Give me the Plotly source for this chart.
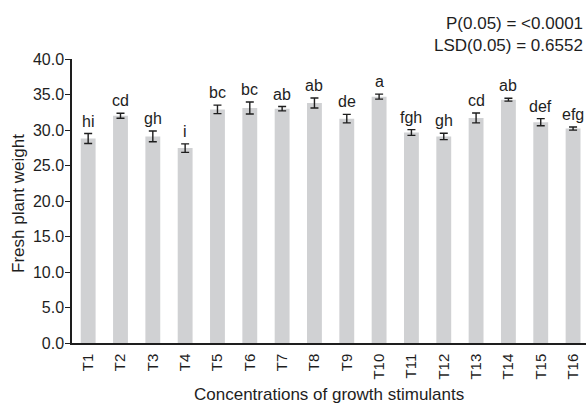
import plotly.graph_objects as go

categories = ["T1", "T2", "T3", "T4", "T5", "T6", "T7", "T8",
              "T9", "T10", "T11", "T12", "T13", "T14", "T15", "T16"]
values = [28.8, 32.0, 29.1, 27.45, 32.9, 33.1, 33.0, 33.8,
          31.6, 34.7, 29.65, 29.1, 31.7, 34.27, 31.1, 30.2]
errors = [0.7, 0.35, 0.75, 0.6, 0.6, 0.85, 0.3, 0.7,
          0.6, 0.35, 0.4, 0.45, 0.7, 0.2, 0.5, 0.22]
letters = ["hi", "cd", "gh", "i", "bc", "bc", "ab", "ab",
           "de", "a", "fgh", "gh", "cd", "ab", "def", "efg"]
y_ticks = [0, 5, 10, 15, 20, 25, 30, 35, 40]
y_ticktext = ["%.1f" % v for v in y_ticks]

FONT = "Liberation Sans, Arial, sans-serif"
TXT = "#1e1e1e"

fig = go.Figure()
fig.add_trace(go.Bar(
    x=categories, y=values, width=0.46,
    marker=dict(color="#d0d1d3", line=dict(width=0)),
    error_y=dict(type="data", array=errors, visible=True,
                 color="#1e1e1e", thickness=1.4, width=4),
    showlegend=False,
))

for cat, v, e, lab in zip(categories, values, errors, letters):
    fig.add_annotation(x=cat, y=v + e, text=lab, xref="x", yref="y",
                       yanchor="bottom", xanchor="center", yshift=2,
                       showarrow=False,
                       font=dict(family=FONT, size=16, color=TXT))

fig.add_annotation(text="P(0.05) = <0.0001", xref="paper", yref="paper",
                   x=1.0, y=1, xshift=-1, yshift=35.5, xanchor="right", yanchor="middle",
                   showarrow=False, font=dict(family=FONT, size=17, color=TXT))
fig.add_annotation(text="LSD(0.05) = 0.6552", xref="paper", yref="paper",
                   x=1.0, y=1, xshift=-1, yshift=13.5, xanchor="right", yanchor="middle",
                   showarrow=False, font=dict(family=FONT, size=17, color=TXT))
fig.add_annotation(text="Concentrations of growth stimulants", xref="paper", yref="paper",
                   x=0.5, y=0, yshift=-51.5, xanchor="center", yanchor="middle",
                   showarrow=False, font=dict(family=FONT, size=17, color=TXT))
fig.add_annotation(text="Fresh plant weight", xref="paper", yref="paper",
                   x=0, y=0.5, xshift=-54, yshift=-3, xanchor="center", yanchor="middle",
                   textangle=-90,
                   showarrow=False, font=dict(family=FONT, size=17, color=TXT))

fig.update_layout(
    width=588, height=406,
    margin=dict(l=72, r=2, t=58.5, b=62.7),
    paper_bgcolor="white", plot_bgcolor="white",
    font=dict(family=FONT, size=15, color=TXT),
    xaxis=dict(
        range=[-0.5, 15.4], tickangle=-90, showgrid=False,
        showline=True, linecolor="#1e1e1e", linewidth=1.5,
        ticks="", ticklabelstandoff=3,
        tickfont=dict(family=FONT, size=15, color=TXT),
    ),
    yaxis=dict(
        range=[0, 40], tickvals=y_ticks, ticktext=y_ticktext,
        showgrid=False, zeroline=False,
        showline=True, linecolor="#1e1e1e", linewidth=1.5,
        ticks="outside", ticklen=5, tickcolor="#1e1e1e", tickwidth=1,
        ticklabelstandoff=-2,
        tickfont=dict(family=FONT, size=16, color=TXT),
    ),
)

page_fix = ("document.body.style.margin='0';"
            "document.body.style.overflow='hidden';"
            "document.documentElement.style.overflow='hidden';")
fig.write_html("out.html", post_script=page_fix,
               config={"displayModeBar": False})
